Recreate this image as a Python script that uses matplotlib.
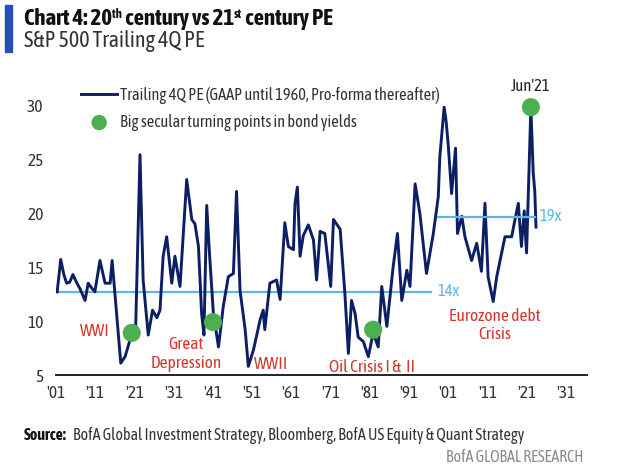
import matplotlib
matplotlib.use("Agg")
import matplotlib.pyplot as plt
from matplotlib.patches import Rectangle

plt.rcParams['font.family'] = ['Asap Condensed', 'DejaVu Sans']
plt.rcParams['font.stretch'] = 'condensed'

# Trailing 4Q PE (year, PE)
years = [1901.3, 1902.2, 1903.0, 1903.7, 1904.5, 1905.3, 1906.2, 1907.1, 1908.4, 1909.2,
         1910.0, 1910.9, 1912.2, 1913.5, 1914.8, 1915.3, 1916.0, 1917.5, 1918.6, 1919.5,
         1920.3, 1921.3, 1922.4, 1923.2, 1924.5, 1925.6, 1926.7, 1927.5, 1928.3, 1929.2,
         1930.5, 1931.3, 1932.6, 1934.3, 1935.6, 1936.4, 1937.3, 1938.1, 1938.7, 1939.4,
         1940.1, 1941.1, 1942.4, 1943.6, 1944.9, 1946.2, 1947.0, 1947.9, 1949.2, 1950.0,
         1951.3, 1953.0, 1953.8, 1954.2, 1955.5, 1957.2, 1958.1, 1959.3, 1960.2, 1961.5,
         1961.9, 1962.5, 1963.2, 1964.0, 1965.3, 1966.6, 1967.4, 1968.3, 1969.5, 1971.0,
         1971.7, 1973.4, 1974.6, 1975.5, 1976.3, 1977.2, 1978.0, 1979.3, 1980.6, 1981.8,
         1983.1, 1984.0, 1985.3, 1986.9, 1988.0, 1989.1, 1990.4, 1991.2, 1992.5, 1993.7,
         1995.4, 1997.1, 1998.4, 1998.8, 1999.9, 2000.4, 2000.9, 2001.8, 2002.8, 2003.3,
         2004.4, 2005.2, 2006.9, 2008.2, 2009.4, 2010.3, 2011.1, 2012.4, 2013.3, 2015.4,
         2017.1, 2017.9, 2018.8, 2019.6, 2020.3, 2020.9, 2022.0, 2022.6, 2023.0, 2023.3]
pe = [12.7, 15.7, 14.3, 13.5, 13.6, 14.3, 13.6, 13.0, 11.9, 13.5,
      13.1, 12.7, 15.6, 13.5, 13.5, 15.6, 12.6, 6.1, 6.7, 7.8,
      8.9, 9.4, 25.4, 13.8, 8.7, 11.0, 10.3, 11.0, 16.0, 17.8,
      13.5, 16.0, 13.2, 23.1, 19.4, 19.0, 16.9, 10.7, 8.7, 20.7,
      16.3, 10.7, 7.6, 11.3, 14.1, 14.4, 22.0, 12.8, 9.2, 5.8,
      7.3, 10.1, 11.0, 9.2, 13.5, 13.8, 12.0, 19.1, 16.9, 16.6,
      20.9, 22.4, 16.0, 17.9, 18.9, 17.5, 13.8, 18.3, 18.1, 13.2,
      19.4, 18.5, 12.6, 7.0, 11.9, 10.7, 8.5, 8.1, 6.7, 8.9,
      7.6, 13.2, 9.5, 15.0, 18.1, 11.9, 14.7, 13.2, 22.7, 20.0,
      14.4, 18.0, 21.5, 25.2, 29.8, 28.5, 26.5, 21.8, 26.0, 18.1,
      19.7, 17.8, 15.6, 17.2, 14.6, 20.9, 14.1, 11.8, 14.1, 17.8,
      17.8, 19.3, 20.9, 16.9, 20.2, 16.3, 29.8, 23.7, 22.0, 18.7]

# averages: 20th century and 21st century
avg20_span = [1901.3, 1996.5]
avg20_value = 12.7
avg20_label = "14x"
avg21_span = [1998.4, 2023.0]
avg21_value = 19.65
avg21_label = "19x"

# turning points in bond yields
turn_years = [1920.3, 1941.0, 1981.8, 2022.0]
turn_pe = [8.9, 9.9, 9.2, 29.8]

events = ["WWI", "Great\nDepression", "WWII", "Oil Crisis I &  II", "Eurozone debt\nCrisis"]
event_x = [1910.9, 1934.1, 1955.7, 1981.5, 2012.8]
event_y = [9.0, 6.95, 6.0, 5.7, 9.6]

xtick_years = list(range(1901, 2032, 10))
xtick_labels = ["'01", "'11", "'21", "'31", "'41", "'51", "'61", "'71", "'81", "'91",
                "'01", "'11", "'21", "'31"]
yticks = [5, 10, 15, 20, 25, 30]

NAVY = '#0c1e64'
LBLUE = '#5cb6e6'
GREEN = '#4caf50'
RED = '#d4362c'

fig = plt.figure(figsize=(6.3, 4.72), dpi=100)
ax = fig.add_axes([56/630, 1 - 375/472, 531/630, 291.6/472])

ax.plot(years, pe, color=NAVY, lw=2.1, zorder=3,
        label='Trailing 4Q PE (GAAP until 1960, Pro-forma thereafter)')
ax.plot(avg20_span, [avg20_value]*2, color=LBLUE, lw=1.6, zorder=2)
ax.plot(avg21_span, [avg21_value]*2, color=LBLUE, lw=1.6, zorder=4)
ax.text(avg20_span[1] + 1.6, avg20_value, avg20_label, color=LBLUE, fontsize=12, va='center')
ax.text(avg21_span[1] + 1.3, avg21_value, avg21_label, color=LBLUE, fontsize=12, va='center')
ax.scatter(turn_years, turn_pe, s=170, color=GREEN, zorder=5, edgecolors='none',
           label='Big secular turning points in bond yields')

for t, x, y in zip(events, event_x, event_y):
    ax.text(x, y, t, color=RED, fontsize=12.5, ha='center', va='center', linespacing=1.1)
ax.text(turn_years[-1], 31.7, "Jun'21", color='#222222', fontsize=12, ha='center', va='center')

ax.set_xlim(1901, 2036.3)
ax.set_ylim(5, 32)
ax.set_xticks(xtick_years)
ax.set_xticklabels(xtick_labels)
ax.set_yticks(yticks)
for s in ['top', 'right', 'left']:
    ax.spines[s].set_visible(False)
ax.spines['bottom'].set_color('#222222')
ax.spines['bottom'].set_linewidth(1.4)
ax.tick_params(axis='both', length=0, labelsize=12.5, labelcolor='#333333')
ax.tick_params(axis='y', pad=9)
ax.tick_params(axis='x', pad=7)

leg = ax.legend(loc='upper left', bbox_to_anchor=(0.035, 1.01), frameon=False, fontsize=11.8,
                handlelength=2.2, handletextpad=0.15, borderaxespad=0.0, labelspacing=0.6,
                markerscale=0.85)
for t in leg.get_texts():
    t.set_color('#333333')

# header
fig.patches.append(Rectangle((5/630, 1 - 52/472), 7/630, 47/472, transform=fig.transFigure,
                             color='#2a4db5', zorder=1))
renderer = fig.canvas.get_renderer()


def put_pieces(x, y, pieces, **kw):
    # pieces: (text, size, dy in pixels)
    px = x * 630
    for txt, size, dy in pieces:
        t = fig.text(px / 630, y + dy / 472, txt, fontsize=size, va='baseline', **kw)
        bb = t.get_window_extent(renderer)
        px += bb.width


put_pieces(24/630, 1 - 25/472,
           [("Chart 4: 20", 16.5, 0), ("th", 9, 7), (" century vs 21", 16.5, 0),
            ("st", 9, 7), (" century PE", 16.5, 0)],
           fontweight='bold', color='#111111')
fig.text(24/630, 1 - 47/472, "S&P 500 Trailing 4Q PE", fontsize=15.8, color='#333333',
         va='baseline')

fig.text(24/630, 1 - 440/472, "Source:", fontsize=11.5, fontweight='bold', color='#111111',
         va='baseline')
fig.text(73/630, 1 - 440/472,
         "BofA Global Investment Strategy, Bloomberg, BofA US Equity & Quant Strategy",
         fontsize=11.5, color='#333333', va='baseline')
fig.text(584/630, 1 - 462/472, "BofA GLOBAL RESEARCH", fontsize=11.5, color='#8a8a8a',
         ha='right', va='baseline')

fig.savefig('out.png', dpi=100)
